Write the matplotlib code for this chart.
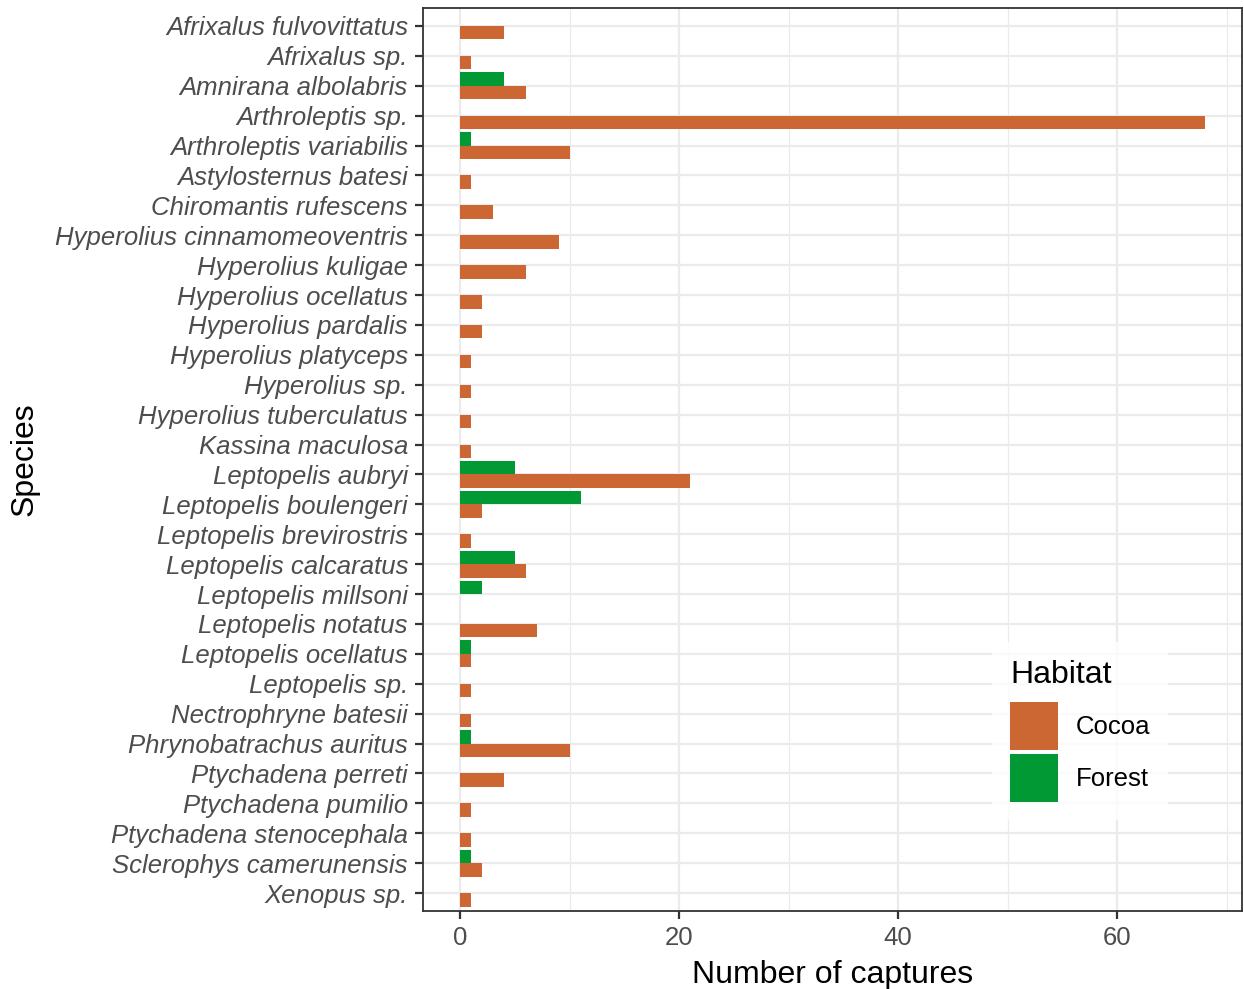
import matplotlib.pyplot as plt
import numpy as np

species = [
    'Afrixalus fulvovittatus', 'Afrixalus sp.', 'Amnirana albolabris',
    'Arthroleptis sp.', 'Arthroleptis variabilis', 'Astylosternus batesi',
    'Chiromantis rufescens', 'Hyperolius cinnamomeoventris',
    'Hyperolius kuligae', 'Hyperolius ocellatus', 'Hyperolius pardalis',
    'Hyperolius platyceps', 'Hyperolius sp.', 'Hyperolius tuberculatus',
    'Kassina maculosa', 'Leptopelis aubryi', 'Leptopelis boulengeri',
    'Leptopelis brevirostris', 'Leptopelis calcaratus', 'Leptopelis millsoni',
    'Leptopelis notatus', 'Leptopelis ocellatus', 'Leptopelis sp.',
    'Nectrophryne batesii', 'Phrynobatrachus auritus', 'Ptychadena perreti',
    'Ptychadena pumilio', 'Ptychadena stenocephala',
    'Sclerophys camerunensis', 'Xenopus sp.',
]
cocoa = [4, 1, 6, 68, 10, 1, 3, 9, 6, 2, 2, 1, 1, 1, 1,
         21, 2, 1, 6, 0, 7, 1, 1, 1, 10, 4, 1, 1, 2, 1]
forest = [0, 0, 4, 0, 1, 0, 0, 0, 0, 0, 0, 0, 0, 0, 0,
          5, 11, 0, 5, 2, 0, 1, 0, 0, 1, 0, 0, 0, 1, 0]

cocoa_col = '#CC6633'
forest_col = '#009933'
grid_col = '#EBEBEB'
dark = '#333333'

plt.rcParams['font.family'] = ['Liberation Sans', 'DejaVu Sans']

fig = plt.figure(figsize=(12.44, 9.89), dpi=100)
ax = fig.add_axes([423 / 1244, 1 - 911 / 989, (1242 - 423) / 1244, (911 - 8) / 989])

pos = np.arange(len(species))
w = 0.45
# Forest sits above the tick, Cocoa below (y axis inverted)
ax.barh(pos - w / 2, forest, height=w, color=forest_col, label='Forest', zorder=3)
ax.barh(pos + w / 2, cocoa, height=w, color=cocoa_col, label='Cocoa', zorder=3)

ax.set_xlim(-3.4, 71.4)
ax.set_ylim(len(species) - 1 + 0.6, -0.6)
ax.set_yticks(pos)
ax.set_yticklabels(species, fontstyle='italic')
ax.set_xticks([0, 20, 40, 60])
ax.set_xticks([10, 30, 50, 70], minor=True)

ax.grid(axis='x', which='major', color=grid_col, lw=1.6, zorder=0)
ax.grid(axis='x', which='minor', color=grid_col, lw=0.9, zorder=0)
ax.grid(axis='y', which='major', color=grid_col, lw=1.6, zorder=0)
ax.tick_params(which='minor', length=0)
ax.tick_params(which='major', length=6, width=1.6, color=dark,
               labelsize=18.5, labelcolor='#4D4D4D', pad=4.8)
for s in ax.spines.values():
    s.set_color(dark)
    s.set_linewidth(1.3)

ax.set_xlabel('Number of captures', fontsize=23, labelpad=7)
ax.set_ylabel('Species', fontsize=23, labelpad=11)

handles, labels = ax.get_legend_handles_labels()
leg = ax.legend(handles[::-1], labels[::-1], title='Habitat', loc='lower left',
                bbox_to_anchor=((992 - 423) / 819, (911 - 820) / 903),
                borderaxespad=0, frameon=True, fontsize=18.5, title_fontsize=23,
                handlelength=1.85, handleheight=2.5, handletextpad=0.7,
                labelspacing=0.15, borderpad=0.7, fancybox=False)
leg.get_frame().set_edgecolor('white')
leg.get_frame().set_linewidth(0)
leg._legend_box.align = 'left'
leg._legend_box.sep = 9  # more room between title and keys

fig.savefig('out.png', dpi=100)
